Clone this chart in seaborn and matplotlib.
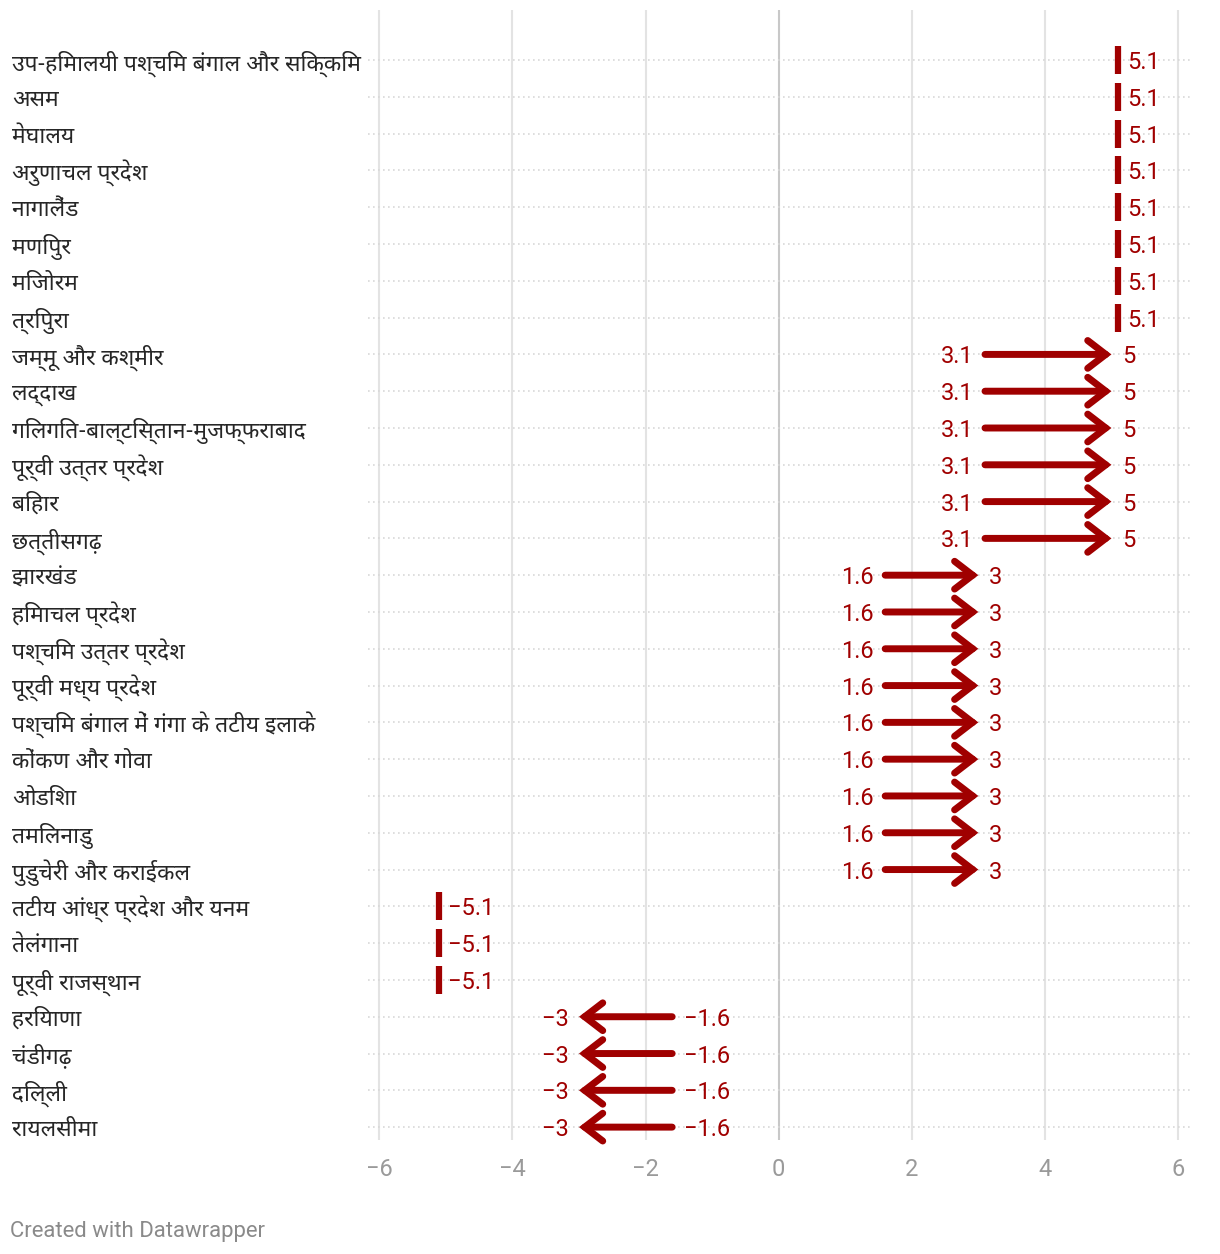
import seaborn as sns
import pandas as pd
import matplotlib.pyplot as plt
from matplotlib import font_manager as fm
from matplotlib.transforms import blended_transform_factory
from fontTools.ttLib import TTFont

regions = [
    'उप-हिमालयी पश्चिम बंगाल और सिक्किम', 'असम', 'मेघालय', 'अरुणाचल प्रदेश',
    'नागालैंड', 'मणिपुर', 'मिजोरम', 'त्रिपुरा', 'जम्मू और कश्मीर', 'लद्दाख',
    'गिलगित-बाल्टिस्तान-मुजफ्फराबाद', 'पूर्वी उत्तर प्रदेश', 'बिहार', 'छत्तीसगढ़',
    'झारखंड', 'हिमाचल प्रदेश', 'पश्चिम उत्तर प्रदेश', 'पूर्वी मध्य प्रदेश',
    'पश्चिम बंगाल में गंगा के तटीय इलाके', 'कोंकण और गोवा', 'ओडिशा', 'तमिलनाडु',
    'पुडुचेरी और कराईकल', 'तटीय आंध्र प्रदेश और यनम', 'तेलंगाना', 'पूर्वी राजस्थान',
    'हरियाणा', 'चंडीगढ़', 'दिल्ली', 'रायलसीमा',
]
start = [5.1, 5.1, 5.1, 5.1, 5.1, 5.1, 5.1, 5.1,
         3.1, 3.1, 3.1, 3.1, 3.1, 3.1,
         1.6, 1.6, 1.6, 1.6, 1.6, 1.6, 1.6, 1.6, 1.6,
         -5.1, -5.1, -5.1,
         -1.6, -1.6, -1.6, -1.6]
end = [5.1, 5.1, 5.1, 5.1, 5.1, 5.1, 5.1, 5.1,
       5, 5, 5, 5, 5, 5,
       3, 3, 3, 3, 3, 3, 3, 3, 3,
       -5.1, -5.1, -5.1,
       -3, -3, -3, -3]
xticks = [-6, -4, -2, 0, 2, 4, 6]

RED = '#a00000'
GRID = '#e3e3e3'


def find_devanagari():
    # pick an installed font that has Devanagari glyphs, preferring a few known ones
    prefer = ['notosansdevanagari', 'mukta', 'hind', 'lohitdevanagari',
              'freesans', 'gargi', 'kalimati']
    found = []
    for path in sorted(fm.findSystemFonts()):
        try:
            cmap = TTFont(path, fontNumber=0, lazy=True).getBestCmap()
        except Exception:
            continue
        if cmap and 0x0915 in cmap and 0x093F in cmap:
            found.append(path)
    if not found:
        return None

    def rank(p):
        key = p.lower().replace('-', '').replace('_', '').replace(' ', '')
        for i, name in enumerate(prefer):
            if name in key and 'bold' not in key:
                return i
        return len(prefer)
    path = sorted(found, key=rank)[0]
    fm.fontManager.addfont(path)
    return fm.FontProperties(fname=path).get_name()


sns.set_theme(style='white')
deva = find_devanagari()
plt.rcParams['font.family'] = ['Roboto', 'DejaVu Sans']
label_family = [deva, 'DejaVu Sans'] if deva else ['Noto Sans', 'DejaVu Sans']

df = pd.DataFrame({'region': regions, 'start': start, 'end': end})
df['row'] = range(len(df))
same = df[df['start'] == df['end']]
moved = df[df['start'] != df['end']]

fig = plt.figure(figsize=(12.2, 12.54), dpi=100)
ax = fig.add_axes([368 / 1220, 1 - 1140 / 1254, 822 / 1220, 1130 / 1254])

# grid
for t in xticks:
    ax.axvline(t, color='#c8c8c8' if t == 0 else GRID, lw=1.5, zorder=0)
for r in df['row']:
    ax.axhline(r, color='#d8d8d8', lw=1.2, ls=(0, (1, 2)), zorder=0)


def fmt(v):
    s = ('%.1f' % v).rstrip('0').rstrip('.')
    return s.replace('-', '\u2212')


# unchanged values: short vertical bars
sns.scatterplot(data=same, x='end', y='row', marker='|', s=380, color=RED,
                linewidth=4.5, ax=ax, zorder=3, legend=False)
for _, r in same.iterrows():
    ax.annotate(fmt(r['end']), (r['end'], r['row']), xytext=(6.5, 0),
                textcoords='offset points', ha='left', va='center_baseline',
                color=RED, fontsize=17)

# arrows
for _, r in moved.iterrows():
    ax.annotate('', xy=(r['end'], r['row']), xytext=(r['start'], r['row']),
                arrowprops=dict(arrowstyle='->,head_length=0.65,head_width=0.5',
                                lw=5, color=RED, shrinkA=0, shrinkB=0,
                                mutation_scale=20, capstyle='round',
                                joinstyle='miter'), zorder=3)
    d = 1 if r['end'] > r['start'] else -1
    ax.annotate(fmt(r['start']), (r['start'], r['row']), xytext=(-8.5 * d, 0),
                textcoords='offset points', ha='right' if d > 0 else 'left',
                va='center_baseline', color=RED, fontsize=17)
    ax.annotate(fmt(r['end']), (r['end'], r['row']), xytext=(7.5 * d, 0),
                textcoords='offset points', ha='left' if d > 0 else 'right',
                va='center_baseline', color=RED, fontsize=17)

# region labels on the left
trans = blended_transform_factory(fig.transFigure, ax.transData)
for _, r in df.iterrows():
    ax.text(12 / 1220, r['row'], r['region'], transform=trans, ha='left',
            va='center_baseline', fontsize=16.5, color='#262626',
            family=label_family)

ax.set_xlim(-6.17, 6.18)
ax.set_ylim(len(df) - 1 + 0.35, -1.36)
ax.set_xticks(xticks)
ax.set_xticklabels([fmt(t) for t in xticks])
ax.set_yticks([])
ax.tick_params(axis='x', length=0, pad=13, labelsize=17, labelcolor='#9a9a9a')
ax.set_xlabel('')
ax.set_ylabel('')
sns.despine(ax=ax, left=True, bottom=True)

fig.text(10 / 1220, 1 - 1232 / 1254, 'Created with Datawrapper', ha='left',
         va='center', fontsize=15.9, color='#8a8a8a')

fig.savefig('out.png', dpi=100)
